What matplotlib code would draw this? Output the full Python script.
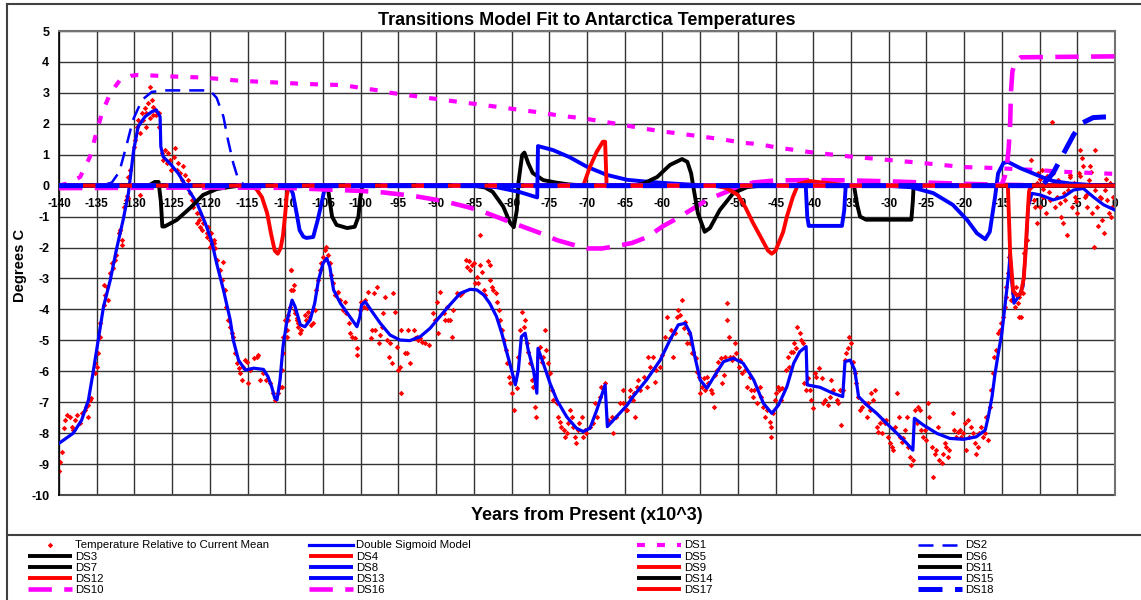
import matplotlib
matplotlib.use('Agg')
import matplotlib.pyplot as plt
from matplotlib.lines import Line2D

plt.rcParams['font.family'] = ['Liberation Sans', 'DejaVu Sans']
plt.rcParams['axes.unicode_minus'] = False

# --- Datos ---

# Temperatura relativa a la media actual (puntos rojos)
temp_x = [-140, -139.9, -139.6, -139.4, -139.2, -139, -138.5, -138.3, -138.1, -137.9, -137.6, -137.2, -136.9, -136.6,
          -136.2, -135.9, -136.1, -136.4, -135.8, -135.2, -135, -135.2, -134.8, -134.6, -134.5, -134.1, -133.9, -133.7,
          -134, -133.5, -133.2, -133, -132.6, -132.4, -132.8, -132.1, -131.9, -131.7, -131.4, -131.1, -130.8, -129.3,
          -131.9, -131.7, -131, -130.8, -130.6, -130.1, -129.9, -129.7, -129.5, -129.3, -129, -128.8, -128.6, -128.4,
          -128.2, -127.9, -127.7, -127.5, -127.3, -127.1, -126.8, -127.9, -128.4, -127.5, -126.8, -126.4, -126.2, -125.9,
          -125.7, -125.5, -125.3, -125.1, -124.8, -124.6, -124.4, -124.2, -124, -123.7, -123.5, -123.3, -123.1, -122.9,
          -122.6, -122.4, -122.2, -121.7, -121.5, -121.3, -121.1, -120.9, -120.4, -120.2, -120, -119.8, -119.5, -119.3,
          -121.3, -121.7, -121.1, -120.4, -120, -119.5, -119.1, -118.7, -118.4, -118.2, -118, -117.8, -117.6, -117.3,
          -117.1, -116.9, -116.7, -116.4, -116.2, -116, -115.8, -115.6, -115.3, -115.1, -114.9, -114.7, -114.2, -113.8,
          -113.6, -113.4, -112.9, -112.5, -112, -111.6, -111.4, -110.9, -110.7, -110.3, -109.8, -109.6, -109.4, -109.2,
          -109, -108.7, -108.5, -108.3,
          -110.5, -110.5, -110.3, -110, -109.8, -109.6, -109.2, -109.2, -108.9, -108.7, -108.5, -108.3, -108.1, -107.9,
          -107.4, -107.2, -107, -106.8, -106.6, -106.3, -106.1, -105.9, -105.7, -105.4, -105.2, -105, -104.8, -104.6,
          -104.3, -104.1, -103.9, -103.7, -103.4, -103.2, -103, -102.8, -102.3, -102.1, -101.9, -101.6, -101.4, -101.2,
          -100.7, -100.5, -100.5, -100.1, -99.9, -99.6, -99.4, -99.2, -99, -98.7, -98.5, -98.3, -98.1, -97.9, -97.6,
          -97.4, -97.2, -97, -96.8, -96.5, -96.3, -96.1, -95.9, -95.7, -95.4, -95.2, -95, -94.8, -94.7, -94.6, -94.1,
          -93.9, -93.7, -93.5, -93, -92.8, -92.6, -92.4, -92.1, -91.9, -91.5, -91, -90.4, -90.1, -89.9, -89.7, -89.5,
          -89, -88.8, -88.6, -88.4, -88.1, -87.9, -87.7, -87.2, -86.8, -86.6, -86.1, -85.9, -85.7, -85.5, -85.2, -85,
          -84.8, -84.6, -84.4, -84.2, -84.2, -83.9, -83.7, -83.5, -83.1, -82.9, -82.8, -82.6, -82.4, -82.1, -81.9,
          -81.7, -81.5, -81.3, -81, -80.8, -80.6, -80.4, -80.2, -79.9, -79.7, -79.5, -79.3, -79.1, -78.9, -78.6, -78.4,
          -78.2, -78, -77.8, -77.6, -77.3, -77.1, -76.9, -76.7, -76.5, -76.2, -76, -75.8, -75.6, -75.4, -75.2, -74.9,
          -74.7, -74.5, -74, -73.8, -73.6, -73.4, -73.1, -72.9, -72.7, -72.5, -72.3, -72, -71.8, -71.6, -71.4, -71.2,
          -71, -70.7, -70.5, -70.3, -70.1, -69.6, -69.2, -69, -68.7, -68.3, -68.1, -67.6, -67.2, -66.7, -66.5, -66.1,
          -65.2, -64.7, -64.3, -63.8, -63.2,
          -65.6, -65.2, -64.8, -64.3, -63.9, -63.6, -63.4, -63, -62.5, -62.1, -61.9, -61.6, -61.2, -61, -60.8, -60.3,
          -60.1, -59.7, -59.4, -59, -58.8, -58.6, -58.3, -58.1, -57.9, -57.7, -57.4, -57.2, -57, -56.8, -56.5, -56.3,
          -56.1, -55.9, -55.6, -55.4, -55.2, -55, -54.7, -54.5, -54.3, -54.1, -53.9, -53.6, -53.4, -53.2, -53, -52.8,
          -52.6, -52.3, -52.1, -51.9, -51.7, -51.5, -51.5, -51.2, -51, -50.8, -50.6, -50.4, -50.2, -49.9, -49.7, -49.5,
          -49.1, -48.8, -48.4, -48.2, -48, -47.8, -47.5, -47.1, -46.9, -46.7, -46.4, -46.2, -45.8, -45.6, -45.6, -45.3,
          -45.1, -44.9, -44.7, -44.5, -44.3, -44.1, -43.6, -43.4, -43.2, -43, -42.7, -42.5, -42.3, -42.1, -41.8, -41.6,
          -41.4, -41.2, -40.9, -40.7, -40.5, -40.3, -40.1, -39.8, -39.6, -39.2, -38.9, -38.7, -38.5, -38, -37.8, -37.6,
          -37.4, -36.9, -36.7, -36.5, -36.3, -36.1, -35.8, -35.6, -35.4, -35.2, -35, -34.7, -34.5, -34.3, -34.1, -33.8,
          -33.6, -33.2, -32.9, -32.7, -32.5, -32.3, -32.1, -31.8, -31.6, -31.4, -31.2, -30.9, -30.7, -30.5, -30.3, -30.1,
          -29.8, -29.6, -29.4, -29.2, -28.9, -28.7, -28.5, -28.3, -28.1, -27.8, -27.6, -27.4, -27.2, -27, -26.8, -26.5,
          -26.3, -26.1, -25.9, -25.7, -25.4, -25.2, -25, -24.8, -24.6, -24.3, -24.1, -23.9, -23.7, -23.5, -23.3, -23,
          -22.8, -22.6, -22.4, -22.2, -22, -21.5, -21.3, -21.1, -20.8, -20.6, -20.4, -20.2, -19.9, -19.7, -19.5, -19.3,
          -19.1, -18.8, -18.6, -18.4, -18.2, -18, -17.7, -17.5, -17.3, -17.1, -16.8, -16.6, -16.4, -16.2, -16, -15.8,
          -15.5,
          -15.3, -15.1, -14.8, -14.6, -14.4, -14.4, -14.2, -14, -13.8, -13.5, -13.3, -13.1, -12.9, -12.7, -12.4, -12.2,
          -12.7, -12, -11.7, -11.4, -11.2, -11.1, -10.8, -10.6, -10.4, -10.2, -10, -9.7, -9.5, -9.3, -9.1, -8.6, -8.4,
          -8.2, -8, -7.7, -7.5, -7.3, -7.1, -6.9, -6.6, -6.4, -6.2, -6, -5.7, -5.5, -5.3, -5.1, -4.8, -4.6, -4.4, -4.2,
          -4, -3.7, -3.5, -3.3, -3.1, -2.8, -2.6, -2.4, -2.2, -2, -1.7, -1.5, -1.3, -1.1, -0.8, -0.6, -0.4, -0.2,
          -10.4, -10, -9.5, -9, -8.8, -7.9, -6.8, -5.9, -5.2, -4.7, -3.9, -3.2, -2.7, -1.9, -1.2, -0.5]
temp_y = [-9.24, -8.92, -8.6, -7.84, -7.57, -7.41, -7.47, -7.79, -7.9, -7.57, -7.41, -7.68, -7.36, -7.25,
          -7.09, -6.93, -7.47, -7.14, -6.87, -6.07, -5.85, -5.74, -5.42, -4.88, -4.45, -3.86, -3.53, -3.26,
          -3.21, -3.7, -2.83, -2.51, -2.4, -2.24, -2.67, -1.54, -1.43, -1.92, -0.68, -0.46, -0.41, -0.3,
          -1.43, -1.76, -0.35, 0.29, 0.51, 1.26, 1.48, 1.91, 2.12, 1.69, 2.34, 2.12, 2.5, 1.91,
          2.66, 3.2, 2.77, 2.55, 2.45, 2.28, 2.34, 2.18, 2.34, 2.28, 1.91, 1.05, 0.83, 1.15,
          0.72, 1.05, 0.83, 0.51, 0.94, 1.21, 0.51, 0.72, 0.4, 0.18, 0.62, 0.35, -0.03, 0.18,
          -0.25, -0.46, -0.68, -0.89, -1.11, -1.33, -1.0, -1.22, -1.54, -1.33, -1.76, -1.54, -1.86, -2.03,
          -0.89, -1.22, -1.43, -1.65, -1.97, -1.76, -2.4, -2.72, -3.05, -2.46, -3.37, -3.91, -4.34, -4.56,
          -4.77, -4.88, -5.42, -5.74, -5.9, -6.07, -6.28, -5.85, -5.63, -5.69, -6.39, -5.96, -5.58, -5.53,
          -5.47, -6.28, -6.07, -6.28, -6.39, -6.71, -6.93, -6.71, -6.5, -5.42, -4.88, -4.34, -3.91, -2.72,
          -3.37, -4.13, -4.34, -4.56,
          -5.96, -6.5, -4.88, -4.34, -4.67, -4.18, -2.72, -3.37, -3.21, -4.02, -4.29, -4.45, -4.77, -4.67,
          -4.18, -4.34, -4.07, -4.23, -4.5, -4.45, -4.02, -3.37, -3.05, -2.72, -2.51, -2.29, -2.08, -1.97,
          -2.24, -2.51, -2.89, -3.16, -3.53, -3.48, -3.43, -3.7, -4.02, -3.75, -4.13, -4.45, -4.77, -4.88,
          -4.94, -5.26, -5.47, -4.02, -3.75, -3.91, -3.7, -3.97, -3.43, -4.94, -4.67, -3.48, -4.67, -3.26, -5.1,
          -4.83, -4.56, -4.13, -3.59, -4.99, -5.53, -5.1, -5.74, -3.48, -4.07, -5.2, -5.96, -5.85, -6.71, -4.67, -5.42,
          -5.42, -4.67, -5.74, -4.67, -4.94, -4.88, -4.99, -4.94, -5.04, -5.1, -5.15, -4.13, -4.34, -3.75, -4.77, -3.43,
          -4.13, -4.34, -3.91, -4.34, -4.34, -4.88, -4.02, -3.48, -3.53, -3.48, -2.4, -2.62, -2.45, -2.72, -2.56, -2.51,
          -3.16, -2.94, -3.16, -1.59, -2.56, -2.78, -3.37, -3.53, -2.45, -3.05, -2.56, -3.26, -3.37, -3.48, -3.75,
          -4.02, -4.34, -4.67, -4.99, -5.31, -5.74, -6.18, -6.39, -6.71, -7.25, -6.28, -6.55, -5.53, -4.67, -4.07, -4.56,
          -4.34, -5.1, -5.37, -5.74, -6.28, -6.5, -7.14, -7.47, -5.53, -5.2, -5.69, -5.53, -4.67, -5.31, -5.74, -6.07,
          -6.6, -6.93, -7.04, -7.47, -7.63, -7.79, -7.9, -8.12, -8.01, -7.68, -7.25, -7.47, -7.79, -8.12, -8.33, -7.9,
          -7.68, -7.47, -8.12, -7.9, -8.01, -7.79, -7.68, -7.04, -7.47, -6.82, -6.5, -6.39, -7.58, -7.47, -8.01, -7.47,
          -7.04, -7.25, -6.6, -6.71, -6.28,
          -7.04, -6.6, -7.25, -6.82, -6.93, -7.47, -6.5, -6.6, -6.17, -6.5, -5.53, -5.85, -5.53, -6.34, -5.96, -5.85,
          -5.47, -4.88, -4.23, -4.93, -4.67, -5.53, -4.77, -4.23, -4.02, -4.18, -3.7, -4.61, -4.4, -5.1, -4.77, -5.1,
          -5.42, -5.37, -5.58, -6.01, -6.17, -6.71, -6.5, -6.23, -6.6, -6.17, -6.39, -6.6, -6.71, -7.14, -6.12, -5.96,
          -5.69, -5.58, -6.39, -6.12, -5.53, -3.8, -4.34, -4.88, -5.53, -5.64, -5.53, -5.1, -5.42, -5.85, -5.64, -6.07,
          -5.96, -6.5, -6.17, -6.6, -6.82, -6.6, -7.04, -6.5, -6.82, -7.14, -7.47, -7.25, -7.63, -7.79, -8.12, -7.36,
          -6.93, -6.71, -6.5, -6.6, -6.93, -6.55, -5.96, -5.53, -5.85, -5.37, -5.37, -5.1, -5.26, -4.56, -4.77, -4.99,
          -5.1, -6.39, -6.6, -6.23, -6.6, -6.93, -7.2, -6.07, -6.17, -5.9, -6.23, -7.04, -6.93, -7.09, -6.82, -6.28,
          -6.6, -6.93, -7.04, -6.6, -7.74, -6.6, -5.64, -5.42, -5.26, -4.88, -5.1, -5.69, -6.07, -6.39, -6.82, -7.25,
          -7.14, -7.04, -7.47, -7.04, -7.25, -6.71, -6.93, -6.6, -7.79, -7.95, -7.68, -8.01, -7.58, -7.68, -7.58, -8.12,
          -8.33, -8.44, -8.55, -7.79, -6.71, -7.47, -8.12, -8.28, -8.17, -7.9, -7.47, -8.44, -8.76, -9.03, -8.87, -7.25,
          -7.68, -7.14, -7.25, -7.9, -8.12, -7.9, -8.22, -7.04, -7.47, -8.44, -9.41, -8.66, -8.55, -7.79, -8.87, -8.98,
          -8.66, -8.33, -8.44, -8.76, -8.55, -7.36, -7.9, -8.12, -7.95, -7.9, -8.12, -8.01, -7.68, -8.55, -7.58, -8.12,
          -7.79, -8.01, -8.33, -8.66, -8.44, -8.01, -7.79, -8.12, -8.01, -7.47, -8.22, -7.14, -6.6, -6.07, -5.53, -5.31,
          -4.77,
          -4.66, -4.45, -4.23, -3.91, -3.59, -3.26, -2.83, -2.29, -3.7, -3.48, -3.91, -3.26, -3.8, -3.59, -4.23, -3.48,
          -4.23, -2.19, -1.76, -0.46, 0.83, -0.03, -0.46, -0.68, -1.22, 0.4, -0.68, 0.51, -0.36, 0.08, -0.89, -0.46, 2.07,
          0.4, -0.68, -0.36, 0.18, -0.57, -1.0, -1.22, -0.46, -1.59, -0.14, 0.29, -0.68, 0.08, -0.36, -0.89, 0.4, 1.15,
          0.88, 0.62, -0.36, -0.68, 0.18, 0.62, -0.89, -1.97, 1.15, -0.68, -1.32, -0.36, -1.11, -1.54, -0.14, -0.46,
          -0.89, 0.08, -0.68, -0.36,
          0.08, 0.2, -0.1, 0.3, -0.2, 0.1, -0.25, 0.35, -0.5, 0.3, -0.3, 0.45, -0.15, -0.4, 0.2, -1.0]

# Modelo doble sigmoide (linea azul)
model_x = [-140, -138.1, -137, -136.1, -135.5, -134.8, -134.1, -133.2, -132.4, -131.5, -130.8, -130.1, -129.5, -128.6,
           -127.7, -127.1, -126.6, -126.5, -126.2, -125.3, -124.2, -123.1, -121.7, -120.6, -119.8, -119.1, -118.2,
           -117.3, -116.9, -116.2, -115.3, -114.2, -112.9, -112.3, -111.8, -111.4, -111.1, -110.7, -110.3, -109.8,
           -109.1, -108.7, -108, -107.4, -106.7, -106.1, -105.6, -105, -104.5, -104.1, -103.6, -102.7, -101.6, -100.5,
           -100.1, -99.9, -99.4, -98.5, -97.4, -96.1, -94.8, -93.5, -92.1, -90.8, -89.5, -88.2, -86.8, -85.5, -84.6,
           -83.7, -82.9, -82, -81.3, -80.6, -80, -79.5, -79.1, -78.7, -78.2, -77.8, -77.1, -76.65, -76.5, -75.8, -74.9,
           -74, -72.7, -71.4, -70.5, -69.6, -68.7, -67.6, -67.3, -66.5, -64.7, -63.9, -62.1, -60.3, -59, -57.9, -57,
           -56.3, -55.7, -55, -54.1, -53.3, -51.9, -50.6, -49.3, -47.9, -46.6, -45.5, -44.6, -43.5, -42.6, -41.8,
           -40.95, -40.8, -39.1, -37.4, -36.1, -35.8, -35.1, -34.5, -34, -32.9, -31.6, -30.3, -28.9, -27.6, -26.8,
           -26.6, -25.4, -23.6, -21.9, -20.1, -18.4, -17.2, -16.8, -16.3, -15.9, -15.4, -15, -14.6, -14.1, -13.9,
           -13.7, -13.4, -12.8, -12.2, -11.8, -11.5, -11, -9.9, -8.2, -6.8, -5.5, -4.2, -2.9, -1.5, 0]
model_y = [-8.33, -8.0, -7.58, -6.93, -6.07, -4.99, -3.91, -3.05, -2.08, -1.11, -0.25, 1.15, 1.91, 2.23,
           2.39, 2.45, 2.23, 1.26, 0.94, 0.72, 0.4, -0.03, -0.57, -1.22, -1.76, -2.51, -3.37,
           -4.34, -4.99, -5.64, -5.96, -5.9, -5.94, -6.17, -6.5, -6.87, -6.92, -6.3, -5.2, -4.4,
           -3.7, -3.91, -4.5, -4.56, -4.34, -3.8, -3.05, -2.51, -2.35, -2.62, -3.37, -3.8, -4.18, -4.56,
           -4.23, -3.86, -3.75, -4.07, -4.45, -4.83, -4.99, -5.01, -4.88, -4.61, -4.23, -3.86, -3.48, -3.35, -3.37,
           -3.53, -3.8, -4.23, -4.77, -5.42, -5.96, -6.44, -5.96, -4.88, -4.77, -5.31, -5.96, -6.71, -5.26, -5.74, -6.39,
           -6.93, -7.47, -7.84, -7.95, -7.84, -7.25, -6.44, -7.79, -7.58, -7.1, -6.82, -6.28, -5.64, -4.99, -4.5, -4.45,
           -4.77, -5.53, -6.28, -6.55, -6.23, -5.69, -5.58, -5.74, -6.28, -7.04, -7.36, -7.09, -6.5, -5.74, -5.37,
           -5.2, -6.44, -6.52, -6.71, -6.82, -5.69, -5.64, -5.96, -6.82, -7.09, -7.36, -7.68, -8.01, -8.33, -8.55,
           -7.52, -7.74, -8.01, -8.17, -8.2, -8.12, -7.9, -7.47, -6.82, -6.07, -5.31, -4.77, -3.91, -2.83, -2.19,
           -3.05, -3.8, -3.59, -3.26, -1.97, -0.68, -0.25, -0.3, -0.46, -0.36, -0.14, -0.09, -0.36, -0.62, -0.79]

# Componentes DS1..DS18
ds1_x = [-140, -138.5, -137.2, -135.9, -135.2, -134.3, -133.2, -131.9, -130.5, -129.5, -126.6, -124, -121.3, -118.7,
         -116, -113.4, -110.7, -107.6, -102.3, -99.7, -97.4, -96, -89, -83.8, -78.9, -76, -73.6, -70.9, -68.3, -65.6,
         -62.6, -59.9, -57.3, -54.6, -52.1, -49.5, -47.1, -45, -40, -35, -30, -25, -20, -17, -10, -7, -2, 0]
ds1_y = [0, 0.1, 0.28, 0.93, 1.57, 2.35, 2.99, 3.42, 3.55, 3.58, 3.55, 3.52, 3.5, 3.45,
         3.39, 3.36, 3.33, 3.29, 3.25, 3.15, 3.07, 3.0, 2.77, 2.61, 2.45, 2.36, 2.26, 2.19, 2.09, 1.98,
         1.85, 1.75, 1.67, 1.58, 1.5, 1.39, 1.34, 1.24, 1.07, 0.94, 0.83, 0.72, 0.6, 0.58, 0.5, 0.45, 0.4, 0.38]

ds2_x = [-140, -134, -133, -132, -131, -130.2, -129, -127.7, -126, -120, -119.1, -118.2, -117.6, -116.9, -116.3,
         -115.5, -114, 0]
ds2_y = [0, 0.03, 0.1, 0.45, 1.35, 2.12, 2.77, 3.03, 3.08, 3.08, 2.84, 2.23, 1.48, 0.73, 0.25, 0.03, 0, 0]

ds3_x = [-140, -128, -127.3, -126.8, -126.5, -126.3, -126, -124.4, -122.6, -120.9, -119.1, -117.3, -116, 0]
ds3_y = [0, 0.02, 0.12, 0.12, -0.5, -1.32, -1.32, -1.11, -0.72, -0.3, -0.11, -0.04, 0, 0]

ds4_x = [-140, -114.5, -113.8, -113.1, -112.4, -111.9, -111.4, -111, -110.6, -110.3, -110, -109.8, -109.5, 0]
ds4_y = [0, 0, -0.12, -0.37, -0.89, -1.54, -2.1, -2.2, -2.0, -1.6, -0.89, -0.3, 0, 0]

ds5_x = [-140, -109.5, -109, -108.5, -108.1, -107.6, -107.2, -106.3, -105.7, -105.1, -104.7, 0]
ds5_y = [0, 0, -0.25, -0.89, -1.44, -1.65, -1.69, -1.66, -1.11, -0.46, 0, 0]

ds6_x = [-140, -104.4, -104.1, -103.8, -103.2, -101.8, -100.8, -100.3, -100.1, -99.8, 0]
ds6_y = [0, 0, -0.5, -1.0, -1.27, -1.37, -1.33, -1.0, -0.46, 0, 0]

ds7_x = [-140, -85, -83.5, -82.5, -81.1, -80.2, -79.7, -79.3, -79.1, -78.6, -78.3, -77.8, -77.2, -75.8, -74.1,
         -72.4, -70, 0]
ds7_y = [0, 0, -0.06, -0.2, -0.68, -1.2, -1.34, -0.79, 0.08, 0.99, 1.07, 0.73, 0.41, 0.18, 0.1, 0.04, 0, 0]

ds8_x = [-140, -85, -82, -79, -76.6, -76.5, -74.5, -72.3, -70, -67.4, -64.7, -62.1, -59.4, -56, -53, 0]
ds8_y = [0, 0, -0.05, -0.2, -0.38, 1.28, 1.15, 0.92, 0.61, 0.35, 0.19, 0.13, 0.08, 0.03, 0, 0]

ds9_x = [-140, -70.5, -69.6, -68.7, -67.9, -67.6, -67.4, 0]
ds9_y = [0, 0, 0.61, 1.1, 1.42, 1.42, 0, 0]

ds10_x = [-140, -120, -110, -105, -100, -97, -93, -89, -86, -84, -81, -78, -76, -74, -72, -70, -68, -66, -64,
          -62, -60, -58, -56, -54, -52, -50, -48, -45, -40, -35, -30, -25, -20, -15, -10, 0]
ds10_y = [-0.08, -0.06, -0.07, -0.12, -0.17, -0.22, -0.33, -0.5, -0.68, -0.82, -1.1, -1.37, -1.55, -1.76, -1.9,
          -2.03, -2.03, -1.95, -1.85, -1.66, -1.32, -1.05, -0.75, -0.45, -0.25, -0.05, 0.1, 0.17, 0.18, 0.17,
          0.14, 0.1, 0.06, 0.03, 0.01, 0]

ds11_x = [-140, -64, -62.6, -60.7, -59, -57.4, -56.7, -56.2, -55.9, -55.3, -54.4, -53.7, -52.4, -50.6, -48.8,
          -47, 0]
ds11_y = [0, 0, 0.06, 0.28, 0.67, 0.86, 0.77, 0.4, -0.04, -0.89, -1.49, -1.37, -0.79, -0.24, -0.05, 0, 0]

ds12_x = [-140, -53, -51.5, -50, -49, -48, -47, -46, -45.5, -45, -44, -43.5, -42.7, -42, -40.5, -38, -36, 0]
ds12_y = [0, 0, -0.08, -0.3, -0.7, -1.2, -1.65, -2.1, -2.2, -2.1, -1.5, -1.0, -0.36, 0.05, 0.15, 0.08, 0.02, 0]

ds13_x = [-140, -41, -40.8, -40.6, -36.2, -35.9, -35.7, 0]
ds13_y = [0, 0, -1.0, -1.3, -1.3, -0.8, 0, 0]

ds14_x = [-140, -34.6, -34.2, -33.8, -33, -27, -26.8, -26.7, 0]
ds14_y = [0, 0, -0.6, -1.0, -1.1, -1.1, -0.5, 0, 0]

ds15_x = [-140, -35, -30, -27, -24.1, -21.5, -19.6, -18.3, -17.2, -16.6, -15.9, -15.5, -14.8, -14.2, -12.6,
          -10.8, -9.5, -8.2, -6, -3, 0]
ds15_y = [0, 0, -0.01, -0.05, -0.24, -0.62, -1.11, -1.54, -1.73, -1.49, -0.36, 0.4, 0.73, 0.77, 0.57,
          0.39, 0.26, 0.15, 0.07, 0.02, 0]

ds16_x = [-140, -16, -15, -14.6, -14.3, -14.1, -13.9, -13.8, -13.6, -13.2, -12.5, 0]
ds16_y = [0, 0, 0.05, 0.3, 0.7, 1.2, 2.0, 3.0, 3.7, 4.0, 4.15, 4.18]

ds17_x = [-140, -14.2, -13.9, -13.5, -13.0, -12.5, -12.1, -11.9, -11.6, -11.4, -11.2, 0]
ds17_y = [0, 0, -2.2, -3.4, -3.55, -3.5, -3.0, -2.3, -1.0, -0.2, 0, 0]

ds18_x = [-140, -10, -9.5, -8.2, -6.8, -5.5, -4.4, -2.9, -1.5, 0]
ds18_y = [0, 0, 0.05, 0.41, 1.05, 1.64, 2.02, 2.2, 2.22, 2.22]

ROJO = '#FF0000'
AZUL = '#0000FF'
NEGRO = '#000000'
MAGENTA = '#FF00FF'

# estilos: (nombre, x, y, color, grosor, patron)
componentes = [
    ('DS1', ds1_x, ds1_y, MAGENTA, 3.0, (1.9, 2.9)),
    ('DS2', ds2_x, ds2_y, AZUL, 1.8, (6, 3.6)),
    ('DS3', ds3_x, ds3_y, NEGRO, 2.8, None),
    ('DS4', ds4_x, ds4_y, ROJO, 2.8, None),
    ('DS5', ds5_x, ds5_y, AZUL, 2.8, None),
    ('DS6', ds6_x, ds6_y, NEGRO, 2.8, None),
    ('DS7', ds7_x, ds7_y, NEGRO, 2.8, None),
    ('DS8', ds8_x, ds8_y, AZUL, 2.8, None),
    ('DS9', ds9_x, ds9_y, ROJO, 2.8, None),
    ('DS10', ds10_x, ds10_y, MAGENTA, 3.3, (5.1, 2.7)),
    ('DS11', ds11_x, ds11_y, NEGRO, 2.8, None),
    ('DS12', ds12_x, ds12_y, ROJO, 2.8, None),
    ('DS13', ds13_x, ds13_y, AZUL, 2.8, None),
    ('DS14', ds14_x, ds14_y, NEGRO, 2.8, None),
    ('DS15', ds15_x, ds15_y, AZUL, 2.8, None),
    ('DS16', ds16_x, ds16_y, MAGENTA, 3.3, (5.1, 2.7)),
    ('DS17', ds17_x, ds17_y, ROJO, 2.8, None),
    ('DS18', ds18_x, ds18_y, AZUL, 3.6, (4.8, 2.5)),
]

# --- Figura ---
fig = plt.figure(figsize=(11.41, 6.0), dpi=100)
ax = fig.add_axes([59 / 1141, 105 / 600, 1056 / 1141, 464 / 600])

lineas = {}
lineas['temp'], = ax.plot(temp_x, temp_y, ls='none', marker='D', ms=2.8, mew=0, color=ROJO, zorder=2,
                          label='Temperature Relative to Current Mean')
lineas['model'], = ax.plot(model_x, model_y, color=AZUL, lw=2.3, zorder=3, label='Double Sigmoid Model')

for i, (nombre, xs, ys, color, lw, patron) in enumerate(componentes):
    ln, = ax.plot(xs, ys, color=color, lw=lw, zorder=4 + i * 0.1, label=nombre,
                  solid_capstyle='butt', dash_capstyle='butt')
    if patron is not None:
        ln.set_dashes(patron)
    lineas[nombre] = ln

ax.set_xlim(-140, 0)
ax.set_ylim(-10, 5)
ax.set_xticks(range(-140, 1, 5))
ax.set_yticks(range(-10, 6, 1))
ax.grid(True, color='0.2', lw=1.0, zorder=0)
ax.set_axisbelow(True)

# eje x cruzando en 0
ax.spines['bottom'].set_position(('data', 0))
ax.spines['bottom'].set_visible(False)
ax.axhline(-10, color='0.3', lw=1.5, clip_on=False, zorder=1)
ax.spines['left'].set_color('black')
ax.spines['left'].set_linewidth(1.2)
for lado in ['top', 'right']:
    ax.spines[lado].set_color('0.45')
    ax.spines[lado].set_linewidth(1.5)

ax.tick_params(axis='x', length=0, pad=9, labelsize=8.5)
ax.tick_params(axis='y', length=0, pad=7, labelsize=9)
for t in ax.get_xticklabels() + ax.get_yticklabels():
    t.set_fontweight('bold')

ax.set_title('Transitions Model Fit to Antarctica Temperatures', fontsize=13, fontweight='bold', pad=4)
fig.text(587 / 1141, 1 - 516 / 600, 'Years from Present (x10^3)', ha='center', va='center',
         fontsize=13, fontweight='bold')
fig.text(20 / 1141, 1 - 265 / 600, 'Degrees C', ha='center', va='center', rotation=90,
         fontsize=10.5, fontweight='bold')

# marco exterior y separador de la leyenda
fig.add_artist(Line2D([7 / 1141, 7 / 1141], [0, 1 - 4 / 600], color='0.25', lw=1.5))
fig.add_artist(Line2D([7 / 1141, 1], [1 - 4 / 600, 1 - 4 / 600], color='0.25', lw=1.5))
fig.add_artist(Line2D([7 / 1141, 1], [1 - 535 / 600, 1 - 535 / 600], color='0.25', lw=1.5))

# leyenda en cuatro columnas
columnas = [
    ['temp', 'DS3', 'DS7', 'DS12', 'DS10'],
    ['model', 'DS4', 'DS8', 'DS13', 'DS16'],
    ['DS1', 'DS5', 'DS9', 'DS14', 'DS17'],
    ['DS2', 'DS6', 'DS11', 'DS15', 'DS18'],
]
x_col = [28, 309, 637, 918]
for xc, claves in zip(x_col, columnas):
    hs = [lineas[k] for k in claves]
    leg = fig.legend(hs, [h.get_label() for h in hs], loc='upper left',
                     bbox_to_anchor=(xc / 1141, 1 - 540.5 / 600), frameon=False, fontsize=8.2,
                     borderpad=0, borderaxespad=0, handlelength=3.9, handletextpad=0.25,
                     labelspacing=0.1, numpoints=1)

fig.savefig('out.png', dpi=100)
